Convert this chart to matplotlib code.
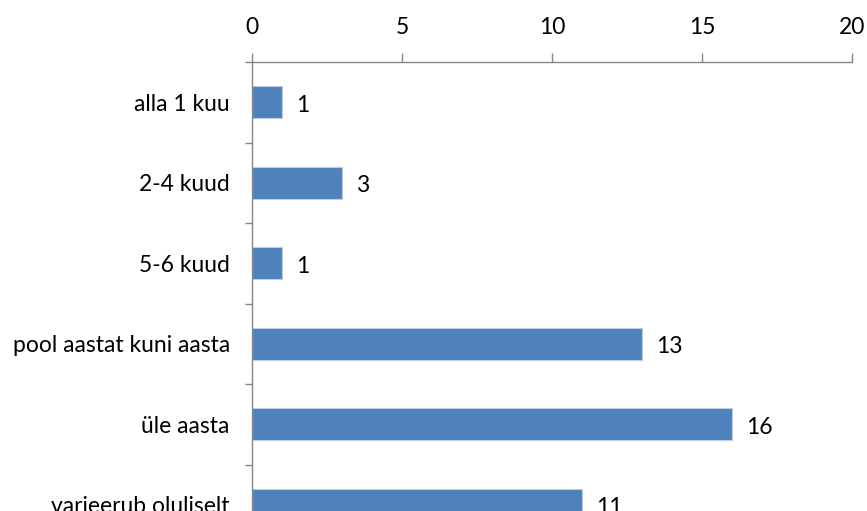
import numpy as np
import matplotlib

matplotlib.use("Agg")
import matplotlib.pyplot as plt
from matplotlib.ticker import FixedLocator

plt.rcParams["font.family"] = ["Lato", "DejaVu Sans"]

# Data
categories = [
    "alla 1 kuu",
    "2-4 kuud",
    "5-6 kuud",
    "pool aastat kuni aasta",
    "üle aasta",
    "varieerub oluliselt",
]
values = [1, 3, 1, 13, 16, 11]
xticks = [0, 5, 10, 15, 20]

bar_color = "#4F81BD"
axis_color = "#868686"
fs = 16.5

fig = plt.figure(figsize=(8.67, 5.11), dpi=100)
# axes runs past the bottom of the figure, like the cropped original
ax = fig.add_axes([252 / 867, 1 - 545 / 511, 600 / 867, 483 / 511])

y = np.arange(len(categories))
ax.barh(y, values, height=0.4, color=bar_color, edgecolor="#B9CDE5", linewidth=0.8)
ax.set_ylim(len(categories) - 0.5, -0.5)
ax.set_xlim(0, 20)

ax.xaxis.tick_top()
ax.set_xticks(xticks)
ax.tick_params(axis="x", length=6.5, width=1, color=axis_color, pad=11,
               labelsize=fs, labelcolor="black")

ax.set_yticks(y)
ax.set_yticklabels(categories)
ax.yaxis.set_minor_locator(FixedLocator(np.arange(-0.5, len(categories), 1.0)))
ax.tick_params(axis="y", which="major", length=0, pad=16, labelsize=fs)
ax.tick_params(axis="y", which="minor", length=5, width=1, color=axis_color)

for side in ["right", "bottom"]:
    ax.spines[side].set_visible(False)
for side in ["top", "left"]:
    ax.spines[side].set_color(axis_color)
    ax.spines[side].set_linewidth(1)

for yi, v in zip(y, values):
    ax.annotate(str(v), (v, yi), xytext=(10, -2), textcoords="offset points",
                ha="left", va="center", fontsize=fs)

fig.savefig("out.png", dpi=100)
